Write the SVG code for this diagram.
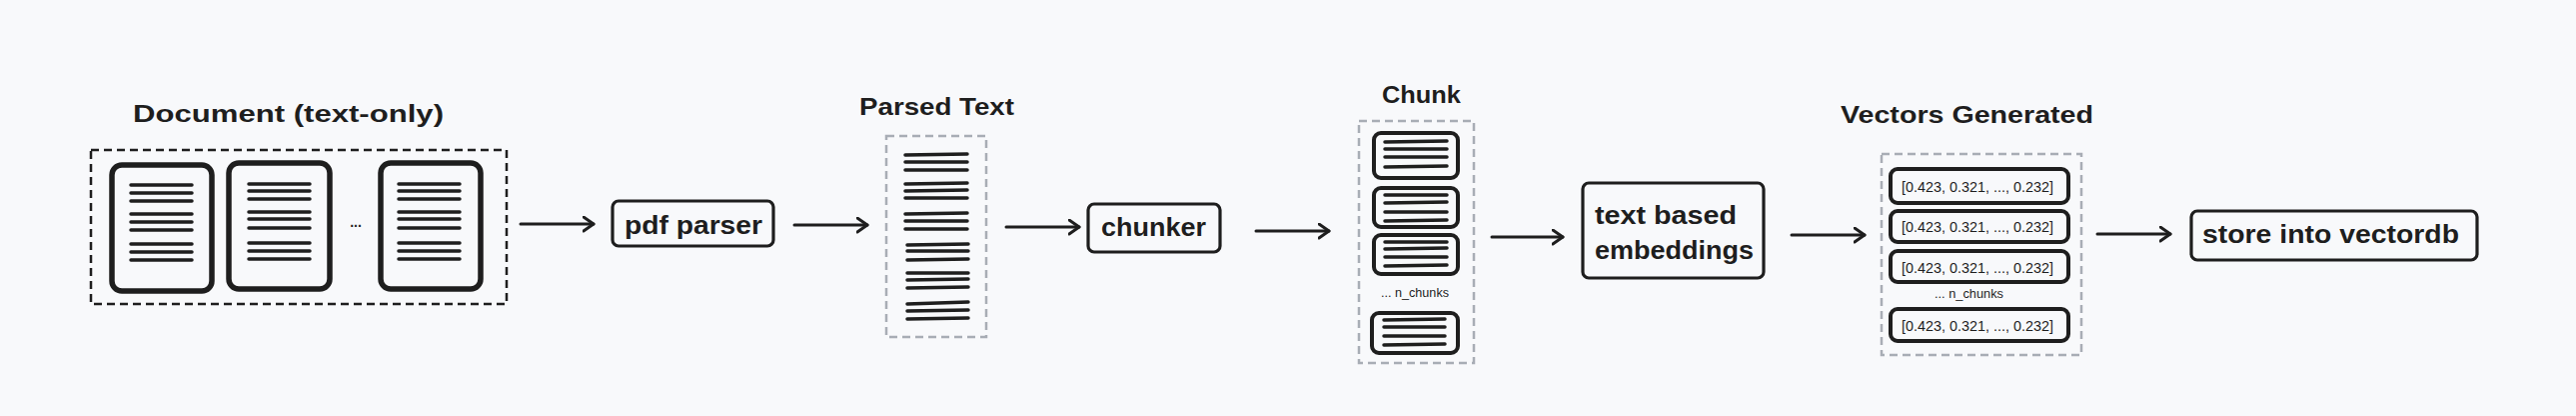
<svg xmlns="http://www.w3.org/2000/svg" width="2578" height="416" viewBox="0 0 2578 416">
<defs>
<marker id="arr" markerUnits="userSpaceOnUse" markerWidth="16" markerHeight="18" refX="11" refY="8" orient="auto">
<path d="M1,1 L11,8 L1,15" fill="none" stroke="#1e1e1e" stroke-width="3" stroke-linecap="round" stroke-linejoin="round"/>
</marker>
</defs>
<style>
.bg{fill:#f8f9fb}
.t{font-family:"Liberation Sans",Arial,sans-serif;font-weight:700;fill:#1e1e1e}
.title{font-size:24px}
.lbl{font-size:25px}
.vec{font-size:15px;font-weight:400}
.small{font-size:12px;font-weight:400}
.page{fill:none;stroke:#1e1e1e;stroke-width:5.5}
.ln{stroke:#1e1e1e;stroke-width:3.5;stroke-linecap:round}
.box{fill:none;stroke:#1e1e1e;stroke-width:3.2}
.cbox{fill:none;stroke:#1e1e1e;stroke-width:4}
.dashk{fill:none;stroke:#1e1e1e;stroke-width:2.5;stroke-dasharray:8 5}
.dashg{fill:none;stroke:#a8adb5;stroke-width:2.5;stroke-dasharray:8 5}
.conn{stroke:#1e1e1e;stroke-width:3;fill:none;stroke-linecap:round}
</style>
<rect class="bg" x="0" y="0" width="2578" height="416"/>

<g id="document">
<text class="t title" x="133" y="122" textLength="311" lengthAdjust="spacingAndGlyphs">Document (text-only)</text>
<rect class="dashk" x="91" y="150" width="416" height="154"/>
<rect class="page" x="112" y="165" width="100" height="126" rx="10"/>
<g>
<line class="ln" x1="131" y1="185" x2="192" y2="185"/><line class="ln" x1="131" y1="193" x2="192" y2="193"/><line class="ln" x1="131" y1="201" x2="192" y2="201"/>
<line class="ln" x1="131" y1="214" x2="192" y2="214"/><line class="ln" x1="131" y1="222" x2="192" y2="222"/><line class="ln" x1="131" y1="230" x2="192" y2="230"/>
<line class="ln" x1="131" y1="244" x2="192" y2="244"/><line class="ln" x1="131" y1="252" x2="192" y2="252"/><line class="ln" x1="131" y1="260" x2="192" y2="260"/>
</g>
<rect class="page" x="229" y="163" width="101" height="126" rx="10"/>
<g>
<line class="ln" x1="249" y1="184" x2="310" y2="184"/><line class="ln" x1="249" y1="191" x2="310" y2="191"/><line class="ln" x1="249" y1="199" x2="310" y2="199"/>
<line class="ln" x1="249" y1="212" x2="310" y2="212"/><line class="ln" x1="249" y1="219" x2="310" y2="219"/><line class="ln" x1="249" y1="228" x2="310" y2="228"/>
<line class="ln" x1="249" y1="243" x2="310" y2="243"/><line class="ln" x1="249" y1="251" x2="310" y2="251"/><line class="ln" x1="249" y1="259" x2="310" y2="259"/>
</g>
<text class="t" x="356" y="227" text-anchor="middle" font-size="14">...</text>
<rect class="page" x="381" y="163" width="100" height="126" rx="10"/>
<g>
<line class="ln" x1="399" y1="184" x2="460" y2="184"/><line class="ln" x1="399" y1="191" x2="460" y2="191"/><line class="ln" x1="399" y1="199" x2="460" y2="199"/>
<line class="ln" x1="399" y1="212" x2="460" y2="212"/><line class="ln" x1="399" y1="219" x2="460" y2="219"/><line class="ln" x1="399" y1="228" x2="460" y2="228"/>
<line class="ln" x1="399" y1="243" x2="460" y2="243"/><line class="ln" x1="399" y1="251" x2="460" y2="251"/><line class="ln" x1="399" y1="259" x2="460" y2="259"/>
</g>
</g>

<g id="pdf-parser">
<rect class="box" x="613" y="201" width="161" height="45" rx="6"/>
<text class="t lbl" x="625" y="234" textLength="138" lengthAdjust="spacingAndGlyphs">pdf parser</text>
</g>

<g id="parsed-text">
<text class="t title" x="860" y="115" textLength="155" lengthAdjust="spacingAndGlyphs">Parsed Text</text>
<rect class="dashg" x="887" y="136" width="100" height="201"/>
<g>
<line class="ln" x1="906" y1="155" x2="968" y2="154"/><line class="ln" x1="906" y1="162" x2="968" y2="162"/><line class="ln" x1="906" y1="170" x2="968" y2="170"/>
<line class="ln" x1="906" y1="184" x2="968" y2="183"/><line class="ln" x1="906" y1="191" x2="968" y2="190"/><line class="ln" x1="906" y1="198" x2="968" y2="198"/>
<line class="ln" x1="906" y1="214" x2="968" y2="213"/><line class="ln" x1="906" y1="221" x2="968" y2="221"/><line class="ln" x1="906" y1="229" x2="968" y2="229"/>
<line class="ln" x1="908" y1="245" x2="969" y2="244"/><line class="ln" x1="908" y1="251" x2="969" y2="251"/><line class="ln" x1="908" y1="260" x2="969" y2="259"/>
<line class="ln" x1="908" y1="273" x2="969" y2="273"/><line class="ln" x1="908" y1="280" x2="969" y2="279"/><line class="ln" x1="908" y1="288" x2="969" y2="287"/>
<line class="ln" x1="908" y1="304" x2="969" y2="302"/><line class="ln" x1="908" y1="311" x2="969" y2="310"/><line class="ln" x1="908" y1="319" x2="969" y2="318"/>
</g>
</g>

<g id="chunker">
<rect class="box" x="1089" y="204" width="132" height="48" rx="6"/>
<text class="t lbl" x="1102" y="236" textLength="105" lengthAdjust="spacingAndGlyphs">chunker</text>
</g>

<g id="chunk">
<text class="t title" x="1383" y="103" textLength="79" lengthAdjust="spacingAndGlyphs">Chunk</text>
<rect class="dashg" x="1360" y="121" width="115" height="242"/>
<rect class="cbox" x="1375" y="133" width="84" height="45" rx="7"/>
<line class="ln" x1="1386" y1="142" x2="1448" y2="141"/><line class="ln" x1="1386" y1="149" x2="1448" y2="149"/><line class="ln" x1="1386" y1="157" x2="1448" y2="157"/><line class="ln" x1="1386" y1="167" x2="1448" y2="166"/>
<rect class="cbox" x="1375" y="188" width="84" height="39" rx="7"/>
<line class="ln" x1="1386" y1="195" x2="1448" y2="195"/><line class="ln" x1="1386" y1="203" x2="1448" y2="202"/><line class="ln" x1="1386" y1="212" x2="1448" y2="212"/><line class="ln" x1="1386" y1="221" x2="1448" y2="220"/>
<rect class="cbox" x="1375" y="235" width="84" height="39" rx="7"/>
<line class="ln" x1="1386" y1="242" x2="1448" y2="242"/><line class="ln" x1="1386" y1="249" x2="1448" y2="248"/><line class="ln" x1="1386" y1="257" x2="1448" y2="257"/><line class="ln" x1="1386" y1="266" x2="1448" y2="265"/>
<text class="t small" x="1382" y="297" textLength="68" lengthAdjust="spacingAndGlyphs">... n_chunks</text>
<rect class="cbox" x="1373" y="313" width="86" height="40" rx="7"/>
<line class="ln" x1="1385" y1="320" x2="1446" y2="319"/><line class="ln" x1="1385" y1="327" x2="1446" y2="327"/><line class="ln" x1="1385" y1="336" x2="1446" y2="336"/><line class="ln" x1="1385" y1="345" x2="1446" y2="344"/>
</g>

<g id="embeddings">
<rect class="box" x="1584" y="183" width="181" height="95" rx="6"/>
<text class="t lbl" x="1596" y="224" textLength="142" lengthAdjust="spacingAndGlyphs">text based</text>
<text class="t lbl" x="1596" y="259" textLength="159" lengthAdjust="spacingAndGlyphs">embeddings</text>
</g>

<g id="vectors">
<text class="t title" x="1842" y="123" textLength="253" lengthAdjust="spacingAndGlyphs">Vectors Generated</text>
<rect class="dashg" x="1883" y="154" width="200" height="201"/>
<rect class="cbox" x="1892" y="169" width="178" height="34" rx="7"/>
<text class="t vec" x="1903" y="192" textLength="152" lengthAdjust="spacingAndGlyphs">[0.423, 0.321, ..., 0.232]</text>
<rect class="cbox" x="1892" y="211" width="178" height="31" rx="7"/>
<text class="t vec" x="1903" y="232" textLength="152" lengthAdjust="spacingAndGlyphs">[0.423, 0.321, ..., 0.232]</text>
<rect class="cbox" x="1892" y="251" width="178" height="31" rx="7"/>
<text class="t vec" x="1903" y="273" textLength="152" lengthAdjust="spacingAndGlyphs">[0.423, 0.321, ..., 0.232]</text>
<text class="t small" x="1936" y="298" textLength="69" lengthAdjust="spacingAndGlyphs">... n_chunks</text>
<rect class="cbox" x="1892" y="309" width="178" height="32" rx="7"/>
<text class="t vec" x="1903" y="331" textLength="152" lengthAdjust="spacingAndGlyphs">[0.423, 0.321, ..., 0.232]</text>
</g>

<g id="vectordb">
<rect class="box" x="2193" y="211" width="286" height="49" rx="6"/>
<text class="t lbl" x="2204" y="243" textLength="257" lengthAdjust="spacingAndGlyphs">store into vectordb</text>
</g>

<g id="connectors">
<line class="conn" x1="521" y1="224" x2="594" y2="224" marker-end="url(#arr)"/>
<line class="conn" x1="795" y1="225" x2="868" y2="225" marker-end="url(#arr)"/>
<line class="conn" x1="1007" y1="227" x2="1080" y2="227" marker-end="url(#arr)"/>
<line class="conn" x1="1257" y1="231" x2="1330" y2="231" marker-end="url(#arr)"/>
<line class="conn" x1="1493" y1="237" x2="1564" y2="237" marker-end="url(#arr)"/>
<line class="conn" x1="1793" y1="235" x2="1866" y2="235" marker-end="url(#arr)"/>
<line class="conn" x1="2099" y1="234" x2="2172" y2="234" marker-end="url(#arr)"/>
</g>
</svg>
